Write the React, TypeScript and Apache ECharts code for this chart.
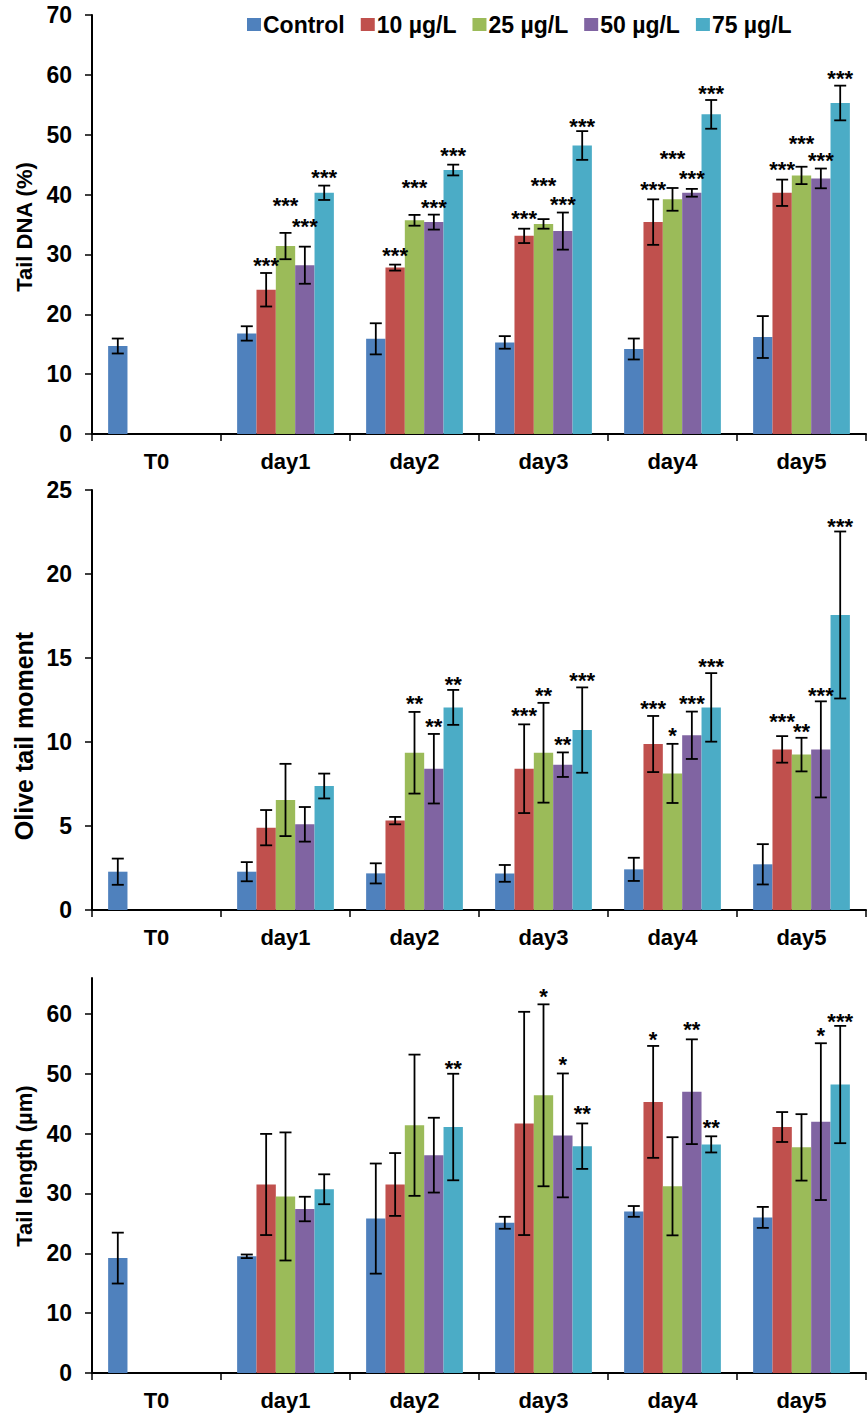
import React, { useEffect, useRef } from "react";
import * as echarts from "echarts";

const categories = ["T0", "day1", "day2", "day3", "day4", "day5"];
const groupNames = ["Control", "10 µg/L", "25 µg/L", "50 µg/L", "75 µg/L"];
const groupColors = ["#4F81BD", "#C0504D", "#9BBB59", "#8064A2", "#4BACC6"];

// Panel 1: Tail DNA (%)
const tailDnaMean = [
  [14.7, 16.8, 15.9, 15.3, 14.2, 16.2],
  [null, 24.1, 27.8, 33.1, 35.4, 40.3],
  [null, 31.4, 35.7, 35.1, 39.2, 43.2],
  [null, 28.2, 35.4, 33.9, 40.3, 42.7],
  [null, 40.3, 44.1, 48.2, 53.4, 55.3],
];
const tailDnaSd = [
  [1.25, 1.2, 2.6, 1.05, 1.75, 3.5],
  [null, 2.8, 0.5, 1.2, 3.8, 2.2],
  [null, 2.2, 0.9, 0.8, 1.9, 1.45],
  [null, 3.1, 1.25, 3.1, 0.65, 1.65],
  [null, 1.2, 0.9, 2.4, 2.4, 2.9],
];
const tailDnaStars = [
  ["", "", "", "", "", ""],
  ["", "***", "***", "***", "***", "***"],
  ["", "***", "***", "***", "***", "***"],
  ["", "***", "***", "***", "***", "***"],
  ["", "***", "***", "***", "***", "***"],
];
// value (y units) at which each significance mark sits
const tailDnaStarLevel = [
  [null, null, null, null, null, null],
  [null, 29.0, 30.6, 36.9, 41.6, 45.1],
  [null, 39.0, 42.0, 42.4, 46.8, 49.4],
  [null, 35.5, 38.7, 39.2, 43.6, 46.6],
  [null, 43.7, 47.3, 52.2, 57.7, 60.3],
];

// Panel 2: Olive tail moment
const oliveMean = [
  [2.28, 2.28, 2.18, 2.18, 2.42, 2.72],
  [null, 4.9, 5.32, 8.41, 9.88, 9.56],
  [null, 6.55, 9.36, 9.36, 8.13, 9.25],
  [null, 5.1, 8.41, 8.65, 10.4, 9.56],
  [null, 7.38, 12.06, 10.71, 12.06, 17.56],
];
const oliveSd = [
  [0.78, 0.57, 0.6, 0.5, 0.69, 1.2],
  [null, 1.05, 0.22, 2.64, 1.67, 0.79],
  [null, 2.15, 2.43, 2.97, 1.76, 1.0],
  [null, 1.03, 2.07, 0.73, 1.41, 2.86],
  [null, 0.74, 1.04, 2.54, 2.04, 4.97],
];
const oliveStars = [
  ["", "", "", "", "", ""],
  ["", "", "", "***", "***", "***"],
  ["", "", "**", "**", "*", "**"],
  ["", "", "**", "**", "***", "***"],
  ["", "", "**", "***", "***", "***"],
];
const oliveStarLevel = [
  [null, null, null, null, null, null],
  [null, null, null, 11.86, 12.3, 11.5],
  [null, null, 12.6, 13.04, 10.7, 10.95],
  [null, null, 11.25, 10.12, 12.6, 13.05],
  [null, null, 13.75, 13.93, 14.8, 23.15],
];

// Panel 3: Tail length (µm)
const tailLenMean = [
  [19.2, 19.5, 25.8, 25.1, 27.0, 26.0],
  [null, 31.5, 31.5, 41.7, 45.3, 41.1],
  [null, 29.5, 41.4, 46.4, 31.2, 37.7],
  [null, 27.4, 36.4, 39.7, 47.0, 42.0],
  [null, 30.7, 41.1, 37.9, 38.2, 48.2],
];
const tailLenSd = [
  [4.25, 0.3, 9.2, 1.0, 0.9, 1.75],
  [null, 8.45, 5.25, 18.65, 9.35, 2.5],
  [null, 10.7, 11.8, 15.2, 8.2, 5.55],
  [null, 2.05, 6.25, 10.35, 8.75, 13.1],
  [null, 2.5, 8.9, 3.8, 1.35, 9.8],
];
const tailLenStars = [
  ["", "", "", "", "", ""],
  ["", "", "", "", "*", ""],
  ["", "", "", "*", "", ""],
  ["", "", "", "*", "**", "*"],
  ["", "", "**", "**", "**", "***"],
];
const tailLenStarLevel = [
  [null, null, null, null, null, null],
  [null, null, null, null, 56.5, null],
  [null, null, null, 63.7, null, null],
  [null, null, null, 52.3, 58.2, 57.3],
  [null, null, 51.7, 44.2, 41.8, 59.6],
];

const yTicks1 = [0, 10, 20, 30, 40, 50, 60, 70];
const yTicks2 = [0, 5, 10, 15, 20, 25];
const yTicks3 = [0, 10, 20, 30, 40, 50, 60];

const FONT = "'Liberation Sans', Arial, sans-serif";

export default function App() {
  const ref = useRef<HTMLDivElement>(null);

  useEffect(() => {
    document.body.style.margin = "0";
    if (!ref.current) return;
    const chart = echarts.init(ref.current, null, { renderer: "svg" });

    const panels = [
      { mean: tailDnaMean, sd: tailDnaSd, stars: tailDnaStars, level: tailDnaStarLevel, ticks: yTicks1, max: 70, interval: 10, top: 15, height: 419, title: "Tail DNA (%)", titleY: 227, titleSize: 22 },
      { mean: oliveMean, sd: oliveSd, stars: oliveStars, level: oliveStarLevel, ticks: yTicks2, max: 25, interval: 5, top: 490, height: 420, title: "Olive tail moment", titleY: 736, titleSize: 25 },
      { mean: tailLenMean, sd: tailLenSd, stars: tailLenStars, level: tailLenStarLevel, ticks: yTicks3, max: 66, interval: 10, top: 978, height: 395, title: "Tail length (µm)", titleY: 1166, titleSize: 22 },
    ];

    const grids: any[] = [];
    const xAxes: any[] = [];
    const yAxes: any[] = [];
    const series: any[] = [];
    const graphics: any[] = [];

    panels.forEach((p, pi) => {
      grids.push({ left: 92, width: 774, top: p.top, height: p.height, containLabel: false });
      xAxes.push({
        type: "category",
        gridIndex: pi,
        data: categories,
        boundaryGap: true,
        axisLine: { lineStyle: { color: "#000", width: 2 } },
        axisTick: { show: true, length: 7, inside: false, alignWithLabel: false, lineStyle: { color: "#000", width: 1.5 } },
        axisLabel: { color: "#000", fontSize: 22, fontWeight: "bold", fontFamily: FONT, margin: 16 },
        splitLine: { show: false },
      });
      yAxes.push({
        type: "value",
        gridIndex: pi,
        min: 0,
        max: p.max,
        interval: p.interval,
        axisLine: { show: true, lineStyle: { color: "#000", width: 2 } },
        axisTick: { show: true, length: 7, lineStyle: { color: "#000", width: 1.5 }, customValues: p.ticks },
        axisLabel: {
          color: "#000", fontSize: 23, fontWeight: "bold", fontFamily: FONT, margin: 20,
          customValues: p.ticks,
          formatter: (v: number) => (p.ticks.indexOf(v) >= 0 ? String(v) : ""),
        },
        splitLine: { show: false },
      });

      groupNames.forEach((g, gi) => {
        series.push({
          type: "bar",
          name: g,
          xAxisIndex: pi,
          yAxisIndex: pi,
          data: p.mean[gi],
          barGap: "0%",
          barCategoryGap: "25%",
          itemStyle: { color: groupColors[gi] },
          emphasis: { disabled: true },
        });
      });

      const errData: number[][] = [];
      const starList: string[] = [];
      const levelList: (number | null)[] = [];
      for (let gi = 0; gi < groupNames.length; gi++) {
        for (let ci = 0; ci < categories.length; ci++) {
          const m = p.mean[gi][ci];
          const s = p.sd[gi][ci];
          if (m == null || s == null) continue;
          errData.push([ci, m - s, m + s, gi]);
          starList.push(p.stars[gi][ci]);
          levelList.push(p.level[gi][ci]);
        }
      }

      series.push({
        type: "custom",
        xAxisIndex: pi,
        yAxisIndex: pi,
        data: errData,
        encode: { x: 0, y: [1, 2] },
        z: 10,
        silent: true,
        renderItem: (params: any, api: any) => {
          const ci = api.value(0);
          const lo = api.value(1);
          const hi = api.value(2);
          const gi = api.value(3);
          const pLo = api.coord([ci, lo]);
          const pHi = api.coord([ci, hi]);
          const catW = api.size([1, 0])[0];
          const bw = (catW * 0.75) / 5;
          const x = pLo[0] + (gi - 2) * bw;
          const cap = 6;
          const st = { stroke: "#000", lineWidth: 1.8 };
          const children: any[] = [
            { type: "line", shape: { x1: x, y1: pLo[1], x2: x, y2: pHi[1] }, style: st },
            { type: "line", shape: { x1: x - cap, y1: pHi[1], x2: x + cap, y2: pHi[1] }, style: st },
            { type: "line", shape: { x1: x - cap, y1: pLo[1], x2: x + cap, y2: pLo[1] }, style: st },
          ];
          const s = starList[params.dataIndex];
          const lv = levelList[params.dataIndex];
          if (s && lv != null) {
            const pS = api.coord([ci, lv]);
            children.push({
              type: "text",
              x: x,
              y: pS[1] + 5,
              style: {
                text: s,
                fill: "#000",
                font: `bold 22px ${FONT}`,
                align: "center",
                verticalAlign: "middle",
                textAlign: "center",
                textVerticalAlign: "middle",
              },
            });
          }
          return { type: "group", children };
        },
      });

      graphics.push({
        type: "text",
        x: 24,
        y: p.titleY,
        rotation: Math.PI / 2,
        style: {
          text: p.title,
          fill: "#000",
          font: `bold ${p.titleSize}px ${FONT}`,
          align: "center",
          verticalAlign: "middle",
          textAlign: "center",
          textVerticalAlign: "middle",
        },
      });
    });

    chart.setOption({
      animation: false,
      backgroundColor: "#fff",
      legend: {
        data: groupNames,
        left: 242,
        top: 8,
        icon: "rect",
        itemWidth: 14,
        itemHeight: 13,
        itemGap: 16,
        textStyle: { color: "#000", fontSize: 23, fontWeight: "bold", fontFamily: FONT, padding: [0, 0, 0, -3] },
        selectedMode: false,
      },
      grid: grids,
      xAxis: xAxes,
      yAxis: yAxes,
      series,
      graphic: graphics,
    });

    return () => {
      chart.dispose();
    };
  }, []);

  return <div ref={ref} style={{ width: 868, height: 1420 }} />;
}
